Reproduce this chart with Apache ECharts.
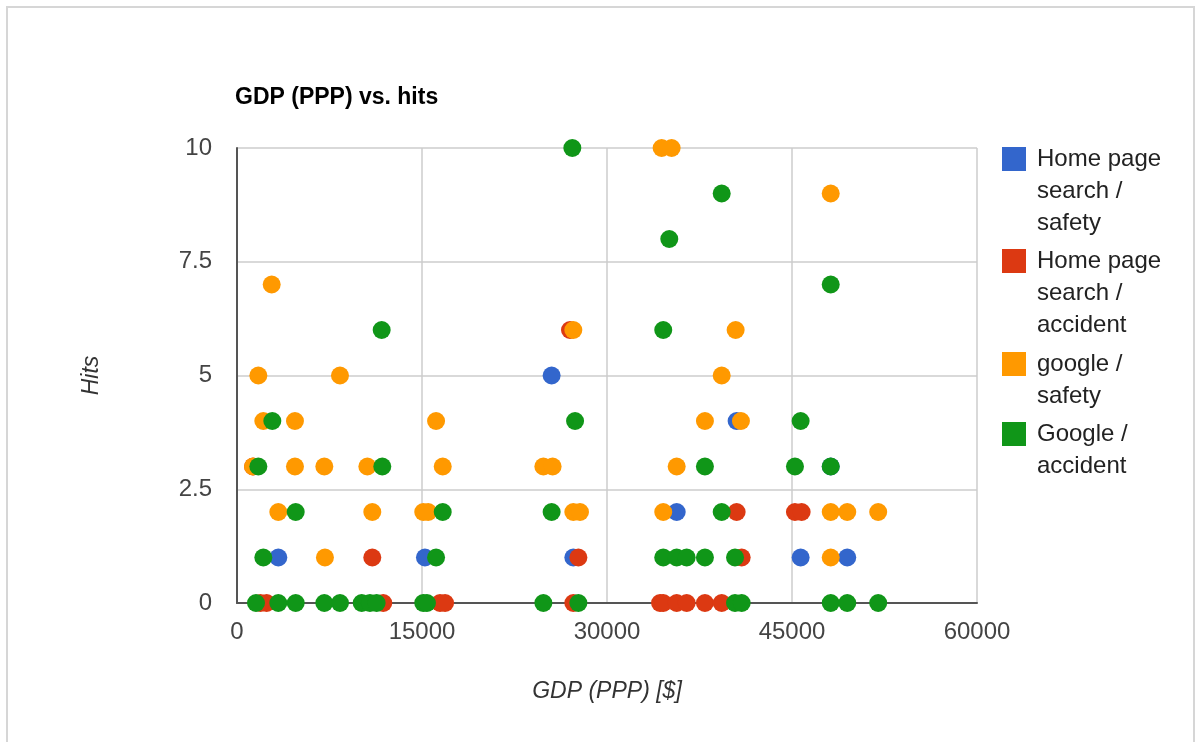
<!DOCTYPE html>
<html>
<head>
<meta charset="utf-8">
<script src="https://cdn.jsdelivr.net/npm/echarts@6/dist/echarts.min.js"></script>
<style>
html,body{margin:0;padding:0;background:#fff;}
#frame{position:absolute;left:6px;top:6px;width:1189px;height:800px;border:2px solid #d6d6d6;box-sizing:border-box;}
#chart{position:absolute;left:0;top:0;width:1201px;height:742px;}
</style>
</head>
<body>
<div id="frame"></div>
<div id="chart"></div>
<script>
// ---- data (GDP PPP in $, hits) ----
const seriesNames = [
  "Home page search / safety",
  "Home page search / accident",
  "google / safety",
  "Google / accident"
];
const legendLines = [
  ["Home page", "search /", "safety"],
  ["Home page", "search /", "accident"],
  ["google /", "safety"],
  ["Google /", "accident"]
];
const homeSafety = [
  [3350,1],[15240,1],[25510,5],[27270,1],[35650,2],[40510,4],[45700,1],[49480,1],[48140,3]
];
const homeAccident = [
  [2400,0],[1900,0],[11860,0],[10970,1],[16460,0],[16870,0],[27000,6],[27270,0],[27680,1],
  [34300,0],[34560,0],[35650,0],[36460,0],[37940,0],[39300,0],[40510,2],[40920,1],
  [45240,2],[45780,2],[1300,3]
];
const googleSafety = [
  [2813,7],[1730,5],[8350,5],[2135,4],[4700,4],[16140,4],[1300,3],[4700,3],[7080,3],
  [10570,3],[16680,3],[24840,3],[25590,3],[3350,2],[10970,2],[15100,2],[15500,2],
  [27270,2],[27810,2],[7130,1],[27270,6],[34430,10],[35240,10],[40430,6],[39300,5],
  [37940,4],[40860,4],[35650,3],[34560,2],[48140,9],[48140,2],[49480,2],[51990,2],[48140,1]
];
const googleAccident = [
  [11730,6],[2865,4],[1730,3],[11780,3],[4760,2],[16680,2],[2135,1],[16140,1],
  [1540,0],[3350,0],[4760,0],[7080,0],[8350,0],[10110,0],[10780,0],[11320,0],[15100,0],[15400,0],
  [27190,10],[27410,4],[25510,2],[24840,0],[27680,0],[39300,9],[35050,8],[34560,6],
  [37940,3],[45240,3],[45700,4],[39300,2],[34560,1],[35650,1],[36460,1],[37940,1],
  [40380,1],[40380,0],[40920,0],[48140,7],[48140,3],[48140,0],[49480,0],[51990,0]
];
const xTicks = [0, 15000, 30000, 45000, 60000];
const yTicks = [0, 2.5, 5, 7.5, 10];
const colors = ["#3366cc", "#dc3912", "#ff9900", "#109618"];
const allData = [homeSafety, homeAccident, googleSafety, googleAccident];

const FONT = "'Liberation Sans', Arial, sans-serif";
const chart = echarts.init(document.getElementById('chart'), null, {renderer: 'canvas'});

// legend: one component per entry; rich text + top padding so the icon sits on the first line
const LH = 32;
const iconTops = [147, 249, 352, 422];
const legends = seriesNames.map((n, i) => {
  const nLines = legendLines[i].length;
  const pad = (nLines - 1) * LH;
  return {
    orient: 'vertical',
    left: 1002,
    top: iconTops[i],
    padding: 0,
    icon: 'rect',
    itemWidth: 24,
    itemHeight: 24,
    selectedMode: false,
    data: [{name: n, itemStyle: {color: colors[i]}}],
    formatter: () => legendLines[i].map(s => '{t|' + s + '}').join('\n'),
    textStyle: {
      padding: [pad, 0, 0, 6],
      rich: {t: {fontFamily: FONT, fontSize: 24, color: '#222', lineHeight: LH}}
    }
  };
});

chart.setOption({
  animation: false,
  backgroundColor: 'transparent',
  title: {
    text: 'GDP (PPP) vs. hits',
    left: 235, top: 86, padding: 0,
    textStyle: {fontFamily: FONT, fontSize: 23, fontWeight: 'bold', color: '#000'}
  },
  legend: legends,
  grid: {left: 237, top: 148, width: 740, height: 455, containLabel: false},
  xAxis: {
    type: 'value', min: xTicks[0], max: xTicks[xTicks.length - 1], interval: xTicks[1] - xTicks[0],
    name: 'GDP (PPP) [$]', nameLocation: 'middle', nameGap: 89,
    nameTextStyle: {fontFamily: FONT, fontSize: 23, fontStyle: 'italic', color: '#333', verticalAlign: 'middle'},
    axisLine: {show: true, lineStyle: {color: '#555', width: 2}},
    axisTick: {show: false},
    axisLabel: {fontFamily: FONT, fontSize: 24, color: '#444', margin: 17, formatter: v => String(v)},
    splitLine: {show: true, lineStyle: {color: '#cccccc', width: 1.5}}
  },
  yAxis: {
    type: 'value', min: yTicks[0], max: yTicks[yTicks.length - 1], interval: yTicks[1] - yTicks[0],
    name: 'Hits', nameLocation: 'middle', nameGap: 145, nameRotate: 90,
    nameTextStyle: {fontFamily: FONT, fontSize: 23, fontStyle: 'italic', color: '#333', verticalAlign: 'middle'},
    axisLine: {show: true, lineStyle: {color: '#555', width: 2}},
    axisTick: {show: false},
    axisLabel: {fontFamily: FONT, fontSize: 24, color: '#444', margin: 25, formatter: v => String(v)},
    splitLine: {show: true, lineStyle: {color: '#cccccc', width: 1.5}}
  },
  series: seriesNames.map((n, i) => ({
    name: n,
    type: 'scatter',
    symbol: 'circle',
    symbolSize: 18,
    data: allData[i],
    itemStyle: {color: colors[i], opacity: 1},
    emphasis: {disabled: true}
  }))
});
</script>
</body>
</html>
